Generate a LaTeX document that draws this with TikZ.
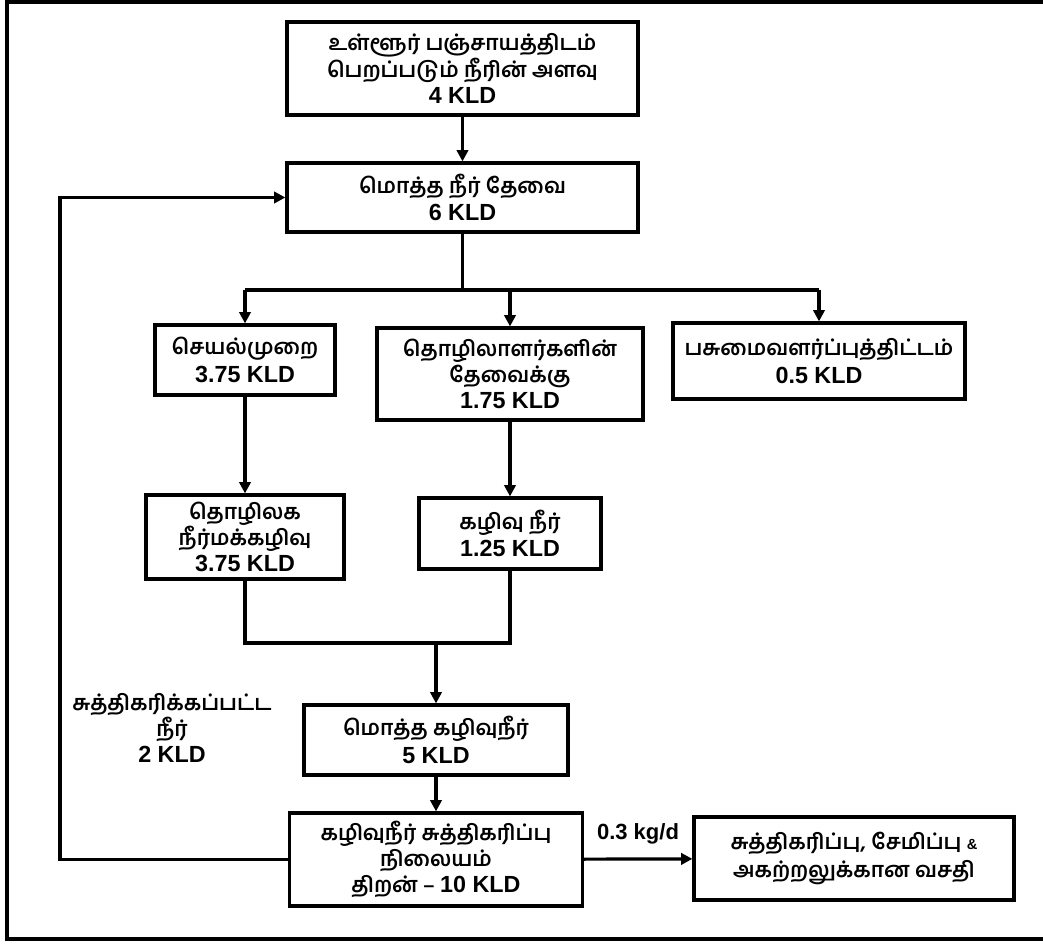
\documentclass[tikz,border=0pt]{standalone}
\usepackage{fontspec}
\setmainfont{Liberation Sans}
\newfontfamily\tamilfont[Script=Tamil]{Hind Madurai SemiBold}
\usetikzlibrary{arrows.meta}

\newcommand\kld[1]{{\fontsize{17.5}{19}\bfseries\rmfamily #1}}

\begin{document}
\begin{tikzpicture}[x=0.75pt,y=0.75pt,yscale=-1,xscale=1,
  flowbox/.style 2 args={draw,line width=2.4pt,align=center,inner sep=0pt,
    minimum width=#1*0.75pt,minimum height=#2*0.75pt,
    font=\tamilfont\fontsize{16}{19.5}\selectfont},
  flowarrow/.style={line width=2.4pt,-{Triangle[length=8.5pt,width=8.5pt]}},
  flowline/.style={line width=2.4pt}]
\useasboundingbox (0,0) rectangle (1043,945);
%outer frame, right side runs off the page
\draw [line width=2.4pt] (1050,2) -- (7,2) -- (7,939) -- (1050,939);

%Flowchart: Process
\node (panchayat) [flowbox={351}{93}] at (462.5,68.5)
  {உள்ளூர் பஞ்சாயத்திடம்\\ பெறப்படும் நீரின் அளவு\\ \kld{4 KLD}};
%Flowchart: Process
\node (totalwater) [flowbox={351}{69}] at (462.5,197.5)
  {மொத்த நீர் தேவை\\[1pt] \kld{6 KLD}};
%Flowchart: Process
\node (process) [flowbox={180}{70}] at (245,360)
  {செயல்முறை\\[1pt] \kld{3.75 KLD}};
%Flowchart: Process
\node (workers) [flowbox={266}{92}] at (510,374)
  {தொழிலாளர்களின்\\ தேவைக்கு\\ \kld{1.75 KLD}};
%Flowchart: Process
\node (greenbelt) [flowbox={292}{76}] at (819,361)
  {பசுமைவளர்ப்புத்திட்டம்\\[1pt] \kld{0.5 KLD}};
%Flowchart: Process
\node (tradeeff) [flowbox={198}{84}] at (245,537)
  {தொழிலக\\ நீர்மக்கழிவு\\ \kld{3.75 KLD}};
%Flowchart: Process
\node (sewage) [flowbox={182}{71}] at (510,533.5)
  {கழிவு நீர்\\[1pt] \kld{1.25 KLD}};
%Flowchart: Process
\node (totalwaste) [flowbox={264}{70}] at (436,740)
  {மொத்த கழிவுநீர்\\[1pt] \kld{5 KLD}};
%Flowchart: Process
\node (stp) [flowbox={293}{93}] at (436,859.5)
  {கழிவுநீர் சுத்திகரிப்பு\\ நிலையம்\\ திறன் – \kld{10 KLD}};
%Flowchart: Process
\node (facility) [flowbox={320}{83}] at (854,858.5)
  {சுத்திகரிப்பு, சேமிப்பு {\rmfamily\fontsize{11}{12}\bfseries\&}\\[2pt] அகற்றலுக்கான வசதி};

% Text Node
\node (treatedlbl) [align=center,inner sep=0pt,font=\tamilfont\fontsize{16}{19.5}\selectfont] at (172,728)
  {சுத்திகரிக்கப்பட்ட\\ நீர்\\ \kld{2 KLD}};
% Text Node
\node (sludgelbl) [inner sep=0pt,font=\bfseries\fontsize{16.5}{19}\selectfont] at (638,834) {0.3 kg/d};

%junctions
\coordinate (split) at (462.5,290);
\coordinate (merge) at (436,643);
\coordinate (loopcorner) at (60,859.5);

%Straight Lines
\draw [flowarrow] (panchayat) -- (totalwater);
\draw [flowline] (totalwater) -- (split);
\draw [flowline] (process.north |- split) -- (greenbelt.north |- split);
\draw [flowarrow] (process.north |- split) -- (process);
\draw [flowarrow] (workers.north |- split) -- (workers);
\draw [flowarrow] (greenbelt.north |- split) -- (greenbelt);
\draw [flowarrow] (process) -- (tradeeff);
\draw [flowarrow] (workers) -- (sewage);
\draw [flowline] (tradeeff.south) |- (merge) -| (sewage.south);
\draw [flowarrow] (merge) -- (totalwaste);
\draw [flowarrow] (totalwaste) -- (stp);
\draw [flowarrow] (stp) -- (facility);
\draw [flowarrow] (stp.west) -- (loopcorner) |- (totalwater.west);

\end{tikzpicture}
\end{document}
